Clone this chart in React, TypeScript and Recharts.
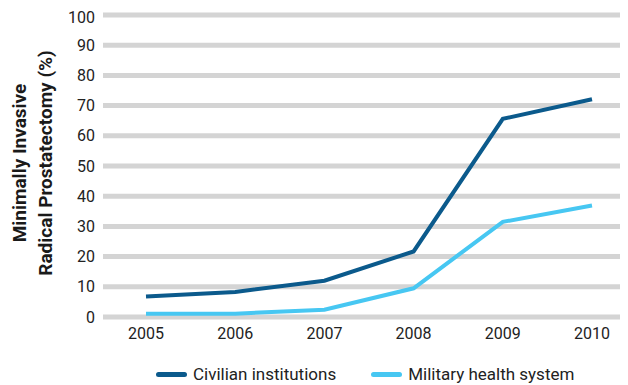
import React from 'react';
import { LineChart, Line, XAxis, YAxis, CartesianGrid, Legend } from 'recharts';

const years = ['2005', '2006', '2007', '2008', '2009', '2010'];
const civilian = [6.8, 8.3, 12, 21.7, 65.6, 72.1];
const military = [1.1, 1.1, 2.4, 9.5, 31.5, 36.9];
const yTicks = [0, 10, 20, 30, 40, 50, 60, 70, 80, 90, 100];

const DARK = '#0b5a8c';
const LIGHT = '#47c7f2';
const FONT = 'Roboto, "Noto Sans", sans-serif';

const data = years.map((year, i) => ({
    year,
    civilian: civilian[i],
    military: military[i],
}));

const legendItems = [
    { label: 'Civilian institutions', color: DARK },
    { label: 'Military health system', color: LIGHT },
];

const YLabel = (props: any) => {
    const vb = props.viewBox || {};
    const cy = (vb.y || 0) + (vb.height || 0) / 2 - 3;
    const lines = [
        { text: 'Minimally Invasive', x: 11 },
        { text: 'Radical Prostatectomy (%)', x: 37 },
    ];
    return (
        <g>
            {lines.map((l) => (
                <text
                    key={l.text}
                    x={l.x}
                    y={cy}
                    transform={`rotate(-90 ${l.x} ${cy})`}
                    textAnchor="middle"
                    dominantBaseline="central"
                    fontFamily={FONT}
                    fontWeight={700}
                    fontSize={19}
                    fill="#1a1a1a"
                >
                    {l.text}
                </text>
            ))}
        </g>
    );
};

const LegendContent = () => (
    <div style={{ display: 'flex', paddingLeft: 148, paddingTop: 17, fontFamily: FONT, fontSize: 17, color: '#222' }}>
        {legendItems.map((it, i) => (
            <div key={it.label} style={{ display: 'flex', alignItems: 'center', marginRight: i === 0 ? 35 : 0 }}>
                <span style={{ display: 'inline-block', width: 31, height: 5, borderRadius: 3, background: it.color, marginRight: 6 }} />
                <span>{it.label}</span>
            </div>
        ))}
    </div>
);

export default function App() {
    return (
        <div style={{ width: 620, height: 377 }}>
            <LineChart width={620} height={377} data={data} margin={{ top: 7, right: 0, left: 0, bottom: 0 }}>
                <CartesianGrid vertical={false} stroke="#d4d4d4" strokeWidth={5} />
                <XAxis
                    dataKey="year"
                    axisLine={false}
                    tickLine={false}
                    height={30}
                    tickMargin={5}
                    padding={{ left: 43, right: 36 }}
                    tick={{ fill: '#222', fontSize: 16, fontFamily: FONT }}
                />
                <YAxis
                    domain={[0, 100]}
                    ticks={yTicks}
                    width={95}
                    axisLine={false}
                    tickLine={false}
                    tickMargin={2}
                    tick={{ fill: '#222', fontSize: 16, fontFamily: FONT }}
                    label={{ content: YLabel }}
                />
                <Legend verticalAlign="bottom" height={38} wrapperStyle={{ left: 0, width: 620 }} content={LegendContent} />
                <Line dataKey="civilian" stroke={DARK} strokeWidth={4} dot={false} isAnimationActive={false} />
                <Line dataKey="military" stroke={LIGHT} strokeWidth={4} dot={false} isAnimationActive={false} />
            </LineChart>
        </div>
    );
}
